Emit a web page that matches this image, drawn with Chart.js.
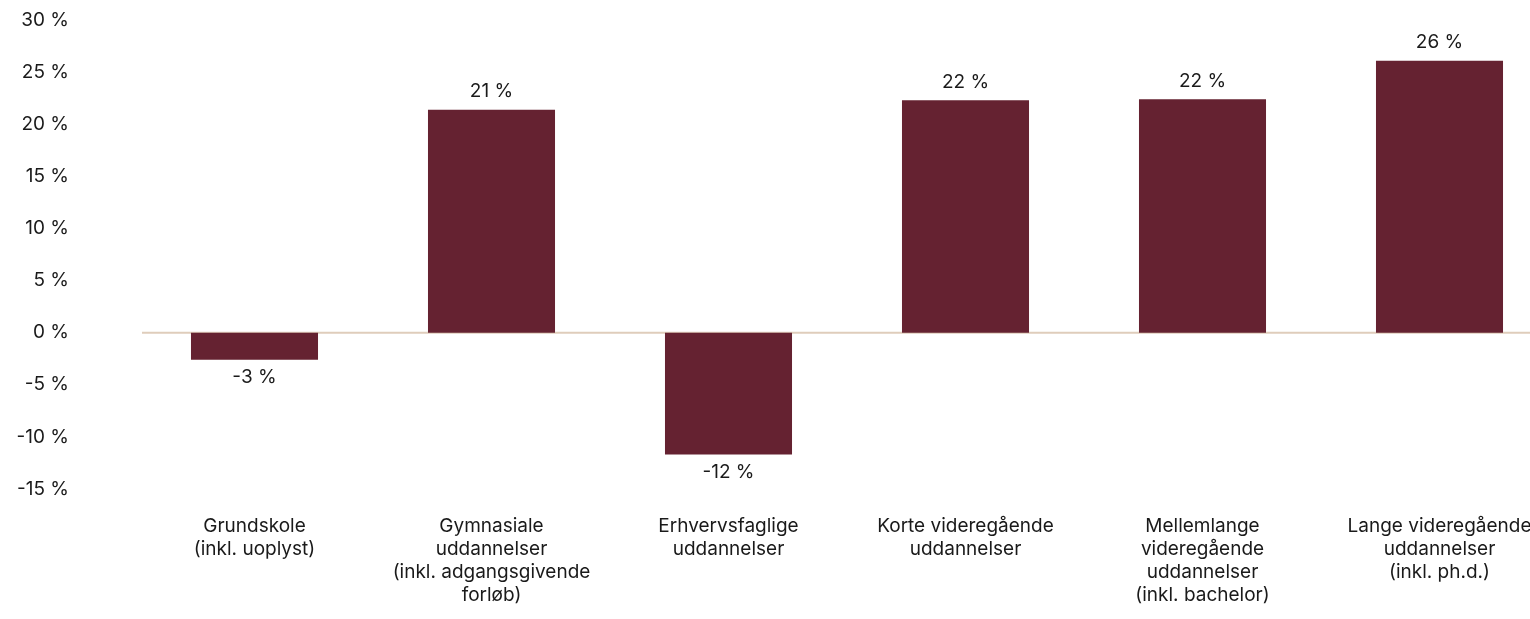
<!DOCTYPE html>
<html>
<head>
<meta charset="utf-8">
<script src="https://cdn.jsdelivr.net/npm/chart.js@4.4.1/dist/chart.umd.min.js"></script>
<style>
  html, body { margin: 0; padding: 0; background: #ffffff; overflow: hidden; }
  #wrap { position: relative; width: 1560px; height: 619px; }
</style>
</head>
<body>
<div id="wrap"><canvas id="c"></canvas></div>
<script>
const categories = [
  ["Grundskole", "(inkl. uoplyst)"],
  ["Gymnasiale", "uddannelser", "(inkl. adgangsgivende", "forløb)"],
  ["Erhvervsfaglige", "uddannelser"],
  ["Korte videregående", "uddannelser"],
  ["Mellemlange", "videregående", "uddannelser", "(inkl. bachelor)"],
  ["Lange videregående", "uddannelser", "(inkl. ph.d.)"]
];
const values = [-2.6, 21.4, -11.7, 22.3, 22.4, 26.1];
const yTicks = [30, 25, 20, 15, 10, 5, 0, -5, -10, -15];

const FONT = "Inter, 'Open Sans', sans-serif";
const TEXT = "#1a1a1a";
const BAR = "#652231";
const ZERO = "#dfcdbb";

const zeroLine = {
  id: "zeroLine",
  beforeDatasetsDraw(chart) {
    const ctx = chart.ctx;
    const y = chart.scales.y.getPixelForValue(0);
    const a = chart.chartArea;
    ctx.save();
    ctx.strokeStyle = ZERO;
    ctx.lineWidth = 2;
    ctx.beginPath();
    ctx.moveTo(a.left + 6, y);
    ctx.lineTo(a.right + 2, y);
    ctx.stroke();
    ctx.restore();
  }
};

const valueLabels = {
  id: "valueLabels",
  afterDatasetsDraw(chart) {
    const ctx = chart.ctx;
    const meta = chart.getDatasetMeta(0);
    ctx.save();
    ctx.font = "19px " + FONT;
    ctx.fillStyle = TEXT;
    ctx.textAlign = "center";
    ctx.textBaseline = "middle";
    meta.data.forEach((bar, i) => {
      const v = values[i];
      const txt = Math.round(v) + " %";
      const y = v >= 0 ? bar.y - 18 : bar.y + 18;
      ctx.fillText(txt, bar.x, y);
    });
    ctx.restore();
  }
};

new Chart(document.getElementById("c"), {
  type: "bar",
  data: {
    labels: categories,
    datasets: [{
      data: values,
      backgroundColor: BAR,
      borderWidth: 0,
      categoryPercentage: 1.0,
      barPercentage: 0.536
    }]
  },
  options: {
    responsive: true,
    maintainAspectRatio: false,
    animation: false,
    layout: { padding: { top: 20, right: 2, bottom: 0, left: 0 } },
    plugins: {
      legend: { display: false },
      tooltip: { enabled: false }
    },
    scales: {
      y: {
        min: -15,
        max: 30,
        afterBuildTicks(scale) { scale.ticks = yTicks.map(v => ({ value: v })); },
        afterFit(scale) { scale.width = 136; scale.paddingTop = 0; scale.paddingBottom = 0; },
        border: { display: false },
        grid: { display: false, drawTicks: false },
        ticks: {
          padding: 67,
          color: TEXT,
          font: { family: FONT, size: 19 },
          callback: v => v + " %"
        }
      },
      x: {
        afterFit(scale) { scale.height = 130; },
        border: { display: false },
        grid: { display: false, drawTicks: false },
        ticks: {
          padding: 26,
          autoSkip: false,
          maxRotation: 0,
          minRotation: 0,
          color: TEXT,
          font: { family: FONT, size: 19, lineHeight: 1.21 }
        }
      }
    }
  },
  plugins: [zeroLine, valueLabels]
});
</script>
</body>
</html>
